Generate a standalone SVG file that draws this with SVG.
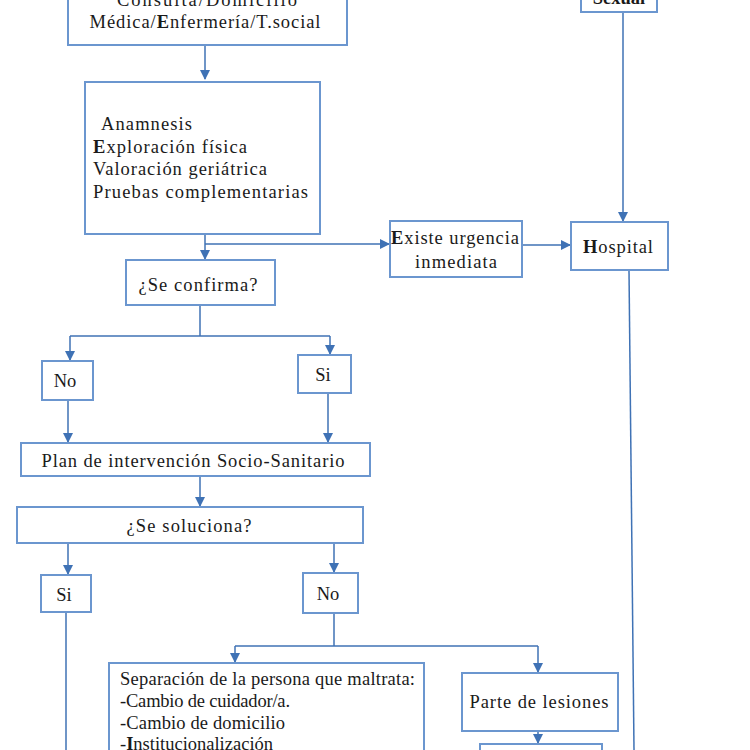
<svg xmlns="http://www.w3.org/2000/svg" width="750" height="750" viewBox="0 0 750 750">
<defs>
<marker id="ah" markerWidth="10" markerHeight="10" refX="9" refY="5" orient="auto" markerUnits="userSpaceOnUse">
<path d="M0,0 L10,5 L0,10 z" fill="#3f72b5"/>
</marker>
<style>
.box{fill:#fff;stroke:#6b96cf;stroke-width:2}
.t{font-family:"Liberation Serif","Times New Roman",serif;font-size:18.5px;fill:#1a1a1a}
.c{text-anchor:middle}
.ln{fill:none;stroke:#3f72b5;stroke-width:1.5}
</style>
</defs>
<rect width="750" height="750" fill="#fff"/>
<g id="connectors">
<path class="ln" d="M205,45 V79" marker-end="url(#ah)"/>
<path class="ln" d="M623,12 V221" marker-end="url(#ah)"/>
<path class="ln" d="M205,234 V259" marker-end="url(#ah)"/>
<path class="ln" d="M205,244 H389" marker-end="url(#ah)"/>
<path class="ln" d="M522,245 H570" marker-end="url(#ah)"/>
<path class="ln" d="M629,270 L634,750"/>
<path class="ln" d="M200,305 V336"/>
<path class="ln" d="M70,336 H330"/>
<path class="ln" d="M70,336 V360" marker-end="url(#ah)"/>
<path class="ln" d="M330,336 V354" marker-end="url(#ah)"/>
<path class="ln" d="M68,400 V442" marker-end="url(#ah)"/>
<path class="ln" d="M328,393 V442" marker-end="url(#ah)"/>
<path class="ln" d="M200,476 V506" marker-end="url(#ah)"/>
<path class="ln" d="M68,543 V574" marker-end="url(#ah)"/>
<path class="ln" d="M334,543 V572" marker-end="url(#ah)"/>
<path class="ln" d="M66,612 V750"/>
<path class="ln" d="M334,613 V646"/>
<path class="ln" d="M235,646 H538"/>
<path class="ln" d="M235,646 V662" marker-end="url(#ah)"/>
<path class="ln" d="M538,646 V672" marker-end="url(#ah)"/>
<path class="ln" d="M538,731 V743" marker-end="url(#ah)"/>
</g>
<g id="n-consulta">
<rect class="box" x="68" y="-20" width="279" height="65"/>
<text class="t c" x="207" y="6" textLength="180" lengthAdjust="spacing">Consulta/Domicilio</text>
<text class="t c" x="205" y="28" textLength="231" lengthAdjust="spacing">Médica/<tspan font-weight="bold">E</tspan>nfermería/T.social</text>
</g>
<g id="n-sexual">
<rect class="box" x="581" y="-20" width="76" height="32"/>
<text class="t c" x="619" y="4" font-weight="bold">Sexual</text>
</g>
<g id="n-anamnesis">
<rect class="box" x="85" y="82" width="235" height="152"/>
<text class="t" x="101" y="130" textLength="91" lengthAdjust="spacing">Anamnesis</text>
<text class="t" x="93" y="153" textLength="154" lengthAdjust="spacing"><tspan font-weight="bold">E</tspan>xploración física</text>
<text class="t" x="93" y="175" textLength="174" lengthAdjust="spacing">Valoración geriátrica</text>
<text class="t" x="93" y="198" textLength="215" lengthAdjust="spacing">Pruebas complementarias</text>
</g>
<g id="n-confirma">
<rect class="box" x="126" y="260" width="149" height="45"/>
<text class="t c" x="198" y="291" textLength="119" lengthAdjust="spacing">¿Se confirma?</text>
</g>
<g id="n-urgencia">
<rect class="box" x="390" y="221" width="132" height="56"/>
<text class="t c" x="455" y="244" textLength="128" lengthAdjust="spacing"><tspan font-weight="bold">E</tspan>xiste urgencia</text>
<text class="t c" x="456" y="268" textLength="82" lengthAdjust="spacing">inmediata</text>
</g>
<g id="n-hospital">
<rect class="box" x="571" y="222" width="97" height="48"/>
<text class="t c" x="618" y="253" textLength="70" lengthAdjust="spacing"><tspan font-weight="bold">H</tspan>ospital</text>
</g>
<g id="n-no1">
<rect class="box" x="42" y="361" width="51" height="39"/>
<text class="t c" x="65" y="387">No</text>
</g>
<g id="n-si1">
<rect class="box" x="298" y="355" width="53" height="38"/>
<text class="t c" x="323" y="381">Si</text>
</g>
<g id="n-plan">
<rect class="box" x="21" y="443" width="349" height="33"/>
<text class="t c" x="193" y="467" textLength="303" lengthAdjust="spacing">Plan de intervención Socio-Sanitario</text>
</g>
<g id="n-soluciona">
<rect class="box" x="17" y="507" width="346" height="36"/>
<text class="t c" x="189" y="532" textLength="125" lengthAdjust="spacing">¿Se soluciona?</text>
</g>
<g id="n-si2">
<rect class="box" x="41" y="575" width="50" height="37"/>
<text class="t c" x="64" y="601">Si</text>
</g>
<g id="n-no2">
<rect class="box" x="303" y="573" width="55" height="40"/>
<text class="t c" x="328" y="600">No</text>
</g>
<g id="n-separacion">
<rect class="box" x="109" y="663" width="315" height="110"/>
<text class="t" x="120" y="685" textLength="295" lengthAdjust="spacing">Separación de la persona que maltrata:</text>
<text class="t" x="120" y="707" textLength="170" lengthAdjust="spacing">-Cambio de cuidador/a.</text>
<text class="t" x="120" y="729" textLength="165" lengthAdjust="spacing">-Cambio de domicilio</text>
<text class="t" x="120" y="750" textLength="153" lengthAdjust="spacing">-<tspan font-weight="bold">I</tspan>nstitucionalización</text>
</g>
<g id="n-parte">
<rect class="box" x="462" y="673" width="156" height="58"/>
<text class="t c" x="539" y="708" textLength="139" lengthAdjust="spacing">Parte de lesiones</text>
</g>
<g id="n-next">
<rect class="box" x="480" y="744" width="122" height="30"/>
</g>
</svg>
